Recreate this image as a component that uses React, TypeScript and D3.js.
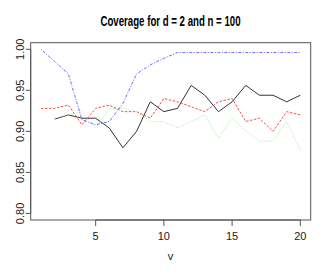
import React from "react";
import { scaleLinear, line } from "d3";

const vValues = Array.from({ length: 20 }, (_, i) => i + 1);

// coverage per method (null = not computed)
const blackSeries = [null, 0.915, 0.92, 0.916, 0.916, 0.904, 0.88, 0.9, 0.936, 0.924, 0.928, 0.956, 0.944, 0.924, 0.936, 0.956, 0.944, 0.944, 0.936, 0.944];
const redSeries = [0.928, 0.928, 0.932, 0.908, 0.928, 0.932, 0.924, 0.924, 0.916, 0.94, 0.936, 0.93, 0.924, 0.936, 0.94, 0.912, 0.916, 0.9, 0.924, 0.92];
const greenSeries = [null, 0.916, 0.92, 0.924, 0.904, 0.928, 0.928, 0.924, 0.912, 0.912, 0.904, 0.912, 0.92, 0.892, 0.916, 0.901, 0.888, 0.888, 0.912, 0.877];
const blueSeries = [1.0, 0.985, 0.97, 0.914, 0.908, 0.912, 0.934, 0.97, 0.981, 0.989, 0.996, 0.996, 0.996, 0.996, 0.996, 0.996, 0.996, 0.996, 0.996, 0.996];

const xTicks = [5, 10, 15, 20];
const yTicks = [0.8, 0.85, 0.9, 0.95, 1.0];

const series = [
  { values: blackSeries, color: "#333", dash: "none" },
  { values: redSeries, color: "#ff4a4a", dash: "2.5,1.5" },
  { values: greenSeries, color: "#a5eca5", dash: "1,1.5" },
  { values: blueSeries, color: "#6a6aff", dash: "1,1.5,3,1.5" },
];

export default function App() {
  const width = 327,
    height = 273;
  const left = 30.7,
    right = 310.7,
    top = 42.7,
    bottom = 220;

  const x = scaleLinear().domain([0.24, 20.76]).range([left, right]);
  const y = scaleLinear().domain([0.792, 1.008]).range([bottom, top]);

  const font = "'Liberation Sans Narrow', 'Liberation Sans', Arial, sans-serif";

  const makeLine = line<number | null>()
    .defined((d) => d !== null)
    .x((_, i) => x(vValues[i]))
    .y((d) => y(d as number));

  return (
    <svg width={width} height={height} style={{ position: "absolute", left: 0, top: 0 }}>
      <rect width={width} height={height} fill="#fff" />
      <text
        x={170.5}
        y={25.5}
        textAnchor="middle"
        fontFamily={font}
        fontWeight="bold"
        fontSize={14.5}
        textLength={140}
        lengthAdjust="spacingAndGlyphs"
        fill="#000"
      >
        Coverage for d = 2 and n = 100
      </text>

      {series.map((s, i) => (
        <path
          key={i}
          d={makeLine(s.values) || ""}
          fill="none"
          stroke={s.color}
          strokeWidth={1}
          strokeDasharray={s.dash}
        />
      ))}

      <rect x={left} y={top} width={right - left} height={bottom - top} fill="none" stroke="#555" strokeWidth={1} />

      {/* x axis */}
      <line x1={x(5)} x2={x(20)} y1={bottom} y2={bottom} stroke="#555" />
      {xTicks.map((t) => (
        <g key={t}>
          <line x1={x(t)} x2={x(t)} y1={bottom} y2={bottom + 6} stroke="#555" />
          <text x={x(t)} y={240} textAnchor="middle" fontFamily={font} fontSize={11} fill="#222">
            {t}
          </text>
        </g>
      ))}

      {/* y axis */}
      <line x1={left} x2={left} y1={y(0.8)} y2={y(1.0)} stroke="#555" />
      {yTicks.map((t) => (
        <g key={t}>
          <line x1={left - 5} x2={left} y1={y(t)} y2={y(t)} stroke="#555" />
          <text
            transform={`translate(23.5,${y(t)}) rotate(-90)`}
            textAnchor="middle"
            fontFamily={font}
            fontSize={11}
            fill="#222"
          >
            {t.toFixed(2)}
          </text>
        </g>
      ))}

      <text x={170.5} y={260} textAnchor="middle" fontFamily={font} fontSize={11} fill="#222">
        v
      </text>
    </svg>
  );
}
